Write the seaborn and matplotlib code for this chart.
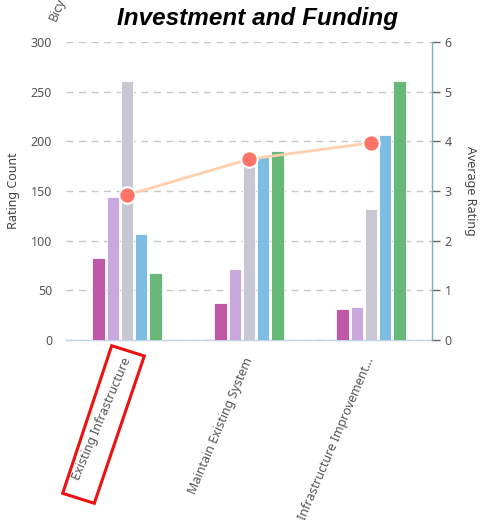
import numpy as np
import pandas as pd
import matplotlib
matplotlib.use("Agg")
import matplotlib.pyplot as plt
from matplotlib.patches import Polygon
import seaborn as sns

# ---- data ----
categories = ["Existing Infrastructure", "Maintain Existing System", "Infrastructure Improvement..."]
ratings = ["1", "2", "3", "4", "5"]
counts_r1 = [83, 37, 31]
counts_r2 = [144, 71, 33]
counts_r3 = [261, 180, 132]
counts_r4 = [107, 184, 206]
counts_r5 = [67, 190, 261]
avg_rating = [2.92, 3.64, 3.97]
left_ticks = [0, 50, 100, 150, 200, 250, 300]
right_ticks = [0, 1, 2, 3, 4, 5, 6]

colors = ["#c058a8", "#c9a9dd", "#c8c8d4", "#7dbde3", "#68b878"]

rows = []
for r, vals in zip(ratings, [counts_r1, counts_r2, counts_r3, counts_r4, counts_r5]):
    for c, v in zip(categories, vals):
        rows.append({"category": c, "rating": r, "count": v})
df = pd.DataFrame(rows)
df_avg = pd.DataFrame({"pos": np.arange(len(categories)), "avg": avg_rating})

sns.set_style("white")
plt.rcParams["font.family"] = ["Noto Sans", "DejaVu Sans"]

W, H = 482, 520
fig = plt.figure(figsize=(W / 100, H / 100), dpi=100)
ax = fig.add_axes([66 / W, 1 - 340 / H, (432 - 66) / W, (340 - 42) / H])

sns.barplot(data=df, x="category", y="count", hue="rating", order=categories,
            hue_order=ratings, palette=colors, saturation=1, width=0.58, gap=0.12,
            edgecolor="white", linewidth=0.6, ax=ax, legend=False, zorder=3)

ax.set_ylim(0, 300)
ax.set_xlim(-0.5, len(categories) - 0.5)
ax.set_yticks(left_ticks)
ax.set_yticklabels([str(t) for t in left_ticks])
ax.yaxis.grid(True, linestyle=(0, (5, 4)), color="#c8c8c8", linewidth=1.0, zorder=0)
ax.set_axisbelow(True)
ax.set_xlabel("")
ax.set_ylabel("Rating Count", fontsize=9, color="#444444", labelpad=8)
ax.tick_params(axis="y", length=0, labelsize=9, labelcolor="#555555", pad=10)

# x ticks: labels at centres, tick marks at boundaries
ax.set_xticks(np.arange(len(categories)))
ax.set_xticklabels(categories, rotation=67, ha="right", va="center",
                   rotation_mode="anchor", fontsize=9, color="#555555")
ax.tick_params(axis="x", which="major", length=0, pad=13)
ax.set_xticks(np.arange(-0.5, len(categories)), minor=True)
ax.tick_params(axis="x", which="minor", length=8, width=1, color="#c5d3e2")

for s in ["top", "left", "right"]:
    ax.spines[s].set_visible(False)
ax.spines["bottom"].set_color("#c5d3e2")
ax.spines["bottom"].set_linewidth(1.0)

# secondary axis for average rating
ax2 = ax.twinx()
sns.lineplot(data=df_avg, x="pos", y="avg", ax=ax2, color="#ffcfae", linewidth=2, zorder=4)
sns.scatterplot(data=df_avg, x="pos", y="avg", ax=ax2, color="#ff7468", s=140,
                edgecolor="white", linewidth=1.5, zorder=5)
ax2.set_ylim(0, 6)
ax2.set_xlim(-0.5, len(categories) - 0.5)
ax2.set_yticks(right_ticks)
ax2.set_yticklabels([str(t) for t in right_ticks])
ax2.set_ylabel("Average Rating", rotation=270, fontsize=9, color="#444444", labelpad=18)
ax2.set_xlabel("")
ax2.tick_params(axis="y", length=6, width=1, color="#666666", labelsize=9,
                labelcolor="#555555", pad=3)
for s in ["top", "left", "bottom"]:
    ax2.spines[s].set_visible(False)
ax2.spines["right"].set_color("#6fb5b5")
ax2.spines["right"].set_linewidth(1.0)

# title
fig.text(258 / W, 1 - 18 / H, "Investment and Funding", ha="center", va="center",
         fontsize=17.5, fontweight="bold", fontstyle="italic",
         family=["Liberation Sans", "DejaVu Sans"], color="#000000")

# cut-off label from chart above
fig.text(56 / W, 1 - 22 / H, "Bicy", rotation=67, ha="left", va="baseline",
         rotation_mode="anchor", fontsize=9, color="#555555")

# red highlight box around first label
pts = [(111.7, 345.7), (144.3, 356.0), (94.3, 503.3), (62.7, 493.3)]
poly = Polygon([(x / W, 1 - y / H) for x, y in pts], closed=True, fill=False,
               edgecolor="#ee1111", linewidth=2.2, transform=fig.transFigure)
fig.add_artist(poly)

fig.savefig("out.png", dpi=100)
